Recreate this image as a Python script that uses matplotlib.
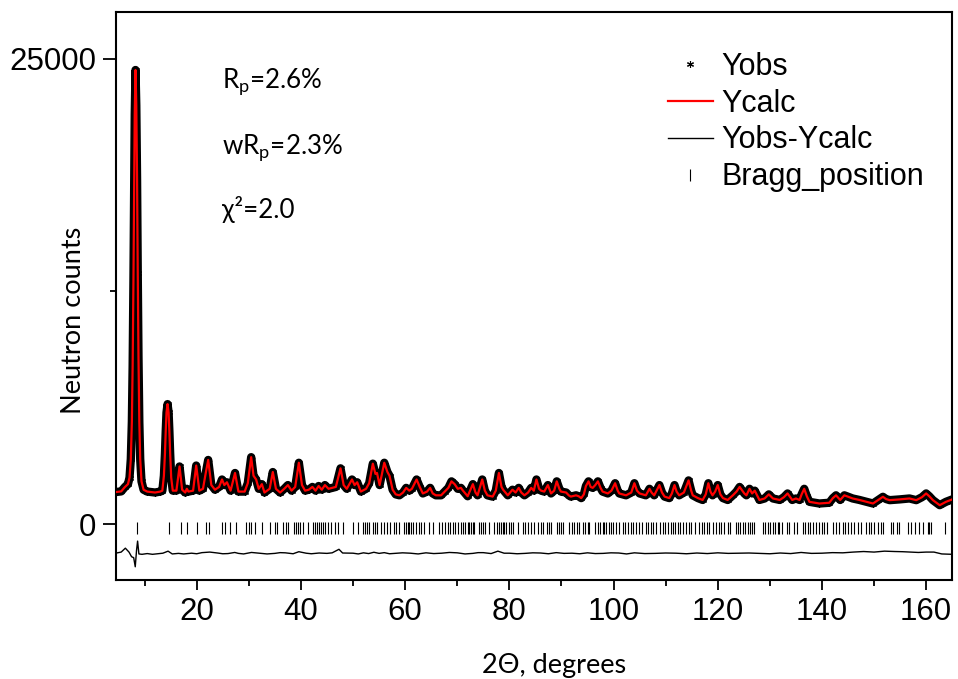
import matplotlib.pyplot as plt
from matplotlib.ticker import MultipleLocator

two_theta = [4.6, 5.5, 6.2, 6.8, 7.1, 7.35, 7.55, 7.7, 7.85, 7.98, 8.1, 8.25, 8.4, 8.55, 8.68, 8.82,
             8.98, 9.15, 9.4, 9.8, 10.5, 12.0, 13.0, 13.4, 13.7, 13.9, 14.05, 14.2, 14.4, 14.6,
             14.75, 14.9, 15.1, 15.4, 16.1, 16.7, 17.2, 17.8, 18.1, 18.4, 19.3, 19.9, 20.5, 21.2,
             21.7, 22.2, 22.8, 23.5, 24.3, 24.85, 25.3, 25.8, 26.5, 27.35, 28.0, 29.2, 29.8, 30.45,
             30.9, 31.4, 31.9, 32.5, 33.0, 34.0, 34.6, 35.2, 36.0, 36.8, 37.5, 38.2, 38.9, 39.6,
             40.2, 40.8, 41.5, 42.2, 42.8, 43.4, 44.0, 44.6, 45.3, 46.0, 46.7, 47.6, 48.2, 48.8,
             49.8, 50.3, 50.8, 51.5, 52.5, 53.1, 53.8, 54.3, 54.6, 55.1, 56.0, 56.6, 57.0, 57.6,
             58.2, 58.9, 59.6, 60.2, 60.8, 61.3, 62.2, 62.8, 63.4, 64.2, 64.8, 65.3, 65.9, 66.9,
             67.6, 68.3, 68.9, 69.5, 70.1, 70.7, 71.1, 72.0, 73.0, 73.5, 73.9, 74.8, 75.3, 75.8,
             76.8, 77.4, 78.0, 78.5, 78.8, 79.7, 80.6, 81.2, 81.8, 82.3, 82.9, 83.6, 84.2, 84.7,
             85.2, 85.7, 86.1, 86.7, 87.4, 88.0, 88.6, 89.1, 89.6, 89.9, 90.9, 91.4, 91.8, 92.8,
             93.3, 93.8, 94.3, 94.7, 95.2, 95.6, 96.0, 96.5, 97.0, 97.5, 97.9, 98.9, 99.6, 100.3,
             100.8, 101.1, 102.4, 103.4, 104.0, 104.5, 105.0, 106.2, 106.9, 107.3, 107.8, 108.8,
             109.3, 109.8, 110.7, 111.2, 111.7, 112.1, 112.6, 113.5, 114.4, 114.9, 115.2, 116.2,
             117.1, 117.7, 118.2, 118.6, 119.0, 119.5, 120.0, 120.5, 121.0, 121.9, 122.9, 123.6,
             124.2, 124.7, 125.1, 125.5, 126.1, 126.6, 127.1, 128.0, 129.0, 129.8, 130.6, 131.9,
             132.7, 133.4, 134.3, 135.0, 135.7, 136.1, 136.6, 137.1, 137.6, 139.5, 141.4, 142.1,
             142.7, 143.5, 144.3, 145.9, 147.2, 148.6, 149.8, 150.8, 151.7, 152.3, 153.0, 154.9,
             156.8, 158.1, 159.2, 160.0, 160.6, 161.3, 162.6, 163.8, 165.0]
counts = [1730, 1760, 1990, 2150, 2500, 3500, 5500, 8500, 13000, 18000, 22000, 24400, 22500, 18500,
          13500, 9000, 5500, 3500, 2300, 1850, 1750, 1700, 1750, 1800, 2600, 3800, 5000, 6000, 6450,
          6000, 5000, 3800, 2500, 1800, 1800, 3100, 1850, 1700, 1900, 1750, 1800, 3150, 1800, 1900,
          2700, 3450, 2100, 1850, 2000, 2400, 2100, 2250, 1800, 2750, 1750, 1750, 2200, 3600, 2600,
          2400, 1900, 2150, 1700, 1900, 2800, 1900, 1700, 1900, 2100, 1800, 2000, 3300, 2100, 1800,
          1850, 2000, 1800, 2050, 1850, 2100, 1900, 1950, 2000, 3000, 2100, 1900, 2400, 2100, 2250,
          1750, 1900, 2200, 3250, 2700, 2750, 2100, 3300, 2800, 2600, 1850, 1600, 1550, 1700, 1950,
          1800, 1900, 2400, 2000, 1650, 1750, 1950, 1650, 1550, 1550, 1750, 1950, 2300, 2150, 1900,
          1950, 1800, 1500, 2150, 1700, 1550, 2400, 1800, 1550, 1480, 1800, 2750, 2000, 1850, 1550,
          1850, 1700, 1950, 1700, 1550, 1700, 1950, 1800, 2400, 1900, 1800, 1750, 2100, 1650, 1800,
          2300, 1900, 1750, 1700, 1550, 1480, 1550, 1500, 1400, 1600, 2050, 2300, 2000, 1950, 2100,
          2300, 1950, 1750, 1650, 1800, 2200, 1800, 1650, 1550, 1700, 2200, 1800, 1650, 1550, 1900,
          1700, 1550, 2100, 1700, 1480, 1400, 1650, 2100, 1750, 1550, 1700, 2350, 1800, 1550, 1400,
          1300, 1600, 2200, 1750, 1550, 1750, 2100, 1600, 1400, 1300, 1550, 1750, 2000, 1800, 1650,
          1550, 1900, 1650, 1800, 1300, 1380, 1600, 1380, 1300, 1450, 1650, 1300, 1380, 1300, 1600,
          1900, 1500, 1200, 1110, 1150, 1400, 1550, 1300, 1550, 1380, 1300, 1200, 1110, 1300, 1470,
          1350, 1290, 1330, 1380, 1290, 1450, 1650, 1500, 1290, 1020, 1200, 1330]

# difference curve
diff_theta = [4.6, 5.5, 6.3, 7.0, 7.5, 7.9, 8.2, 8.45, 8.65, 8.9, 9.5, 10.5, 11.5, 12.5, 13.5,
              14.5, 15.3, 16.5, 17.5, 19.0, 20.0, 21.0, 22.5, 24.0, 25.0, 26.0, 27.3, 28.0, 29.0,
              30.5, 32.0, 33.5, 35.0, 36.0, 37.0, 38.5, 39.6, 41.0, 42.0, 43.5, 45.0, 46.0, 47.3,
              48.0, 50.0, 51.0, 52.0, 53.0, 54.0, 55.0, 56.0, 57.0, 58.0, 59.5, 61.0, 62.5, 64.0,
              65.5, 67.0, 68.5, 70.0, 71.5, 73.0, 74.0, 75.0, 76.5, 77.8, 79.0, 80.0, 81.5, 83.0,
              84.5, 86.0, 87.5, 89.0, 90.5, 92.0, 93.5, 95.0, 96.5, 98.0, 99.5, 101.0, 102.5,
              104.0, 106.0, 108.0, 110.0, 112.0, 114.0, 116.0, 118.0, 120.0, 122.0, 124.0, 126.0,
              128.0, 130.0, 132.0, 134.0, 136.0, 138.0, 140.0, 142.0, 144.0, 146.0, 148.0, 150.0,
              152.0, 154.0, 155.5, 157.0, 158.5, 160.0, 161.5, 163.0, 165.0]
diff_counts = [-1550, -1500, -1290, -1500, -1750, -1800, -2290, -1400, -910, -1600, -1620, -1580,
               -1620, -1590, -1560, -1450, -1600, -1570, -1600, -1560, -1590, -1530, -1500, -1550,
               -1590, -1580, -1520, -1570, -1600, -1520, -1560, -1600, -1570, -1530, -1540, -1590,
               -1480, -1560, -1590, -1550, -1570, -1540, -1350, -1550, -1560, -1600, -1540, -1580,
               -1510, -1570, -1530, -1590, -1570, -1540, -1560, -1600, -1540, -1580, -1560, -1520,
               -1540, -1600, -1570, -1530, -1530, -1580, -1450, -1560, -1560, -1590, -1570, -1540,
               -1550, -1590, -1530, -1570, -1560, -1590, -1540, -1580, -1570, -1540, -1550, -1600,
               -1540, -1580, -1570, -1550, -1560, -1590, -1550, -1580, -1540, -1570, -1560, -1550,
               -1570, -1590, -1550, -1580, -1520, -1570, -1560, -1530, -1540, -1500, -1470, -1500,
               -1450, -1470, -1480, -1500, -1520, -1500, -1500, -1600, -1620]

# Bragg reflection positions (2theta)
bragg_pos = [8.5, 14.65, 16.9, 18.07, 19.99, 21.7, 22.3, 24.82, 25.4, 26.3, 27.5, 29.4, 30.0, 30.42,
             31.2, 32.46, 34.06, 35.0, 35.5, 36.5, 37.1, 37.6, 38.7, 39.05, 39.4, 39.8, 40.46, 41.3,
             42.4, 42.7, 43.0, 43.4, 43.85, 44.3, 44.7, 45.14, 45.78, 46.55, 47.06, 48.02, 49.94,
             50.9, 51.86, 52.31, 52.69, 53.14, 53.78, 54.29, 54.61, 55.38, 56.02, 56.53, 57.17,
             57.81, 58.26, 58.9, 59.73, 60.18, 60.5, 60.82, 61.14, 61.58, 62.09, 62.61, 63.05,
             63.57, 64.65, 65.29, 66.57, 67.08, 67.72, 68.17, 68.62, 69.13, 69.64, 70.09, 70.73,
             71.05, 71.56, 72.01, 72.33, 72.65, 72.97, 73.29, 74.25, 74.57, 74.89, 75.4, 76.17,
             77.13, 77.58, 78.09, 78.41, 78.73, 79.05, 79.37, 79.88, 80.33, 80.65, 81.61, 82.57,
             83.08, 83.53, 84.17, 84.81, 85.45, 86.09, 86.54, 87.18, 87.56, 88.01, 89.1, 89.48,
             89.93, 90.38, 91.53, 92.04, 92.49, 92.94, 93.45, 94.09, 94.6, 95.05, 95.37, 96.52,
             96.97, 97.41, 97.93, 98.25, 98.57, 99.08, 99.53, 99.97, 100.49, 101.12, 101.89,
             102.28, 102.72, 103.36, 103.81, 104.32, 104.96, 105.47, 106.24, 106.56, 107.2,
             107.65, 108.16, 108.93, 109.44, 109.95, 110.4, 111.04, 111.36, 111.87, 112.32,
             112.77, 113.28, 113.92, 114.43, 114.88, 115.71, 116.48, 116.93, 117.44, 117.89,
             118.4, 119.04, 119.68, 120.19, 120.64, 121.28, 121.92, 122.37, 123.52, 123.84,
             124.29, 124.8, 125.31, 125.77, 126.22, 126.6, 127.05, 128.78, 129.16, 129.61, 130.06,
             130.57, 131.08, 131.53, 131.85, 132.36, 133.26, 133.64, 134.73, 135.17, 136.33,
             136.84, 137.29, 137.73, 138.25, 138.89, 139.53, 140.04, 140.49, 140.93, 142.21,
             142.72, 143.24, 144.0, 144.52, 144.96, 145.6, 146.24, 146.88, 147.52, 148.48, 149.0,
             149.44, 150.08, 150.72, 151.36, 151.81, 153.28, 153.73, 154.37, 154.75, 156.48,
             157.12, 157.95, 158.59, 159.36, 160.32, 160.64, 160.96, 163.71]
bragg_level = -200

plt.rcParams['font.family'] = ['Liberation Sans', 'DejaVu Sans']
plt.rcParams['mathtext.fontset'] = 'custom'
plt.rcParams['mathtext.rm'] = 'Lato'

fig = plt.figure(figsize=(9.58, 6.79), dpi=100)
ax = fig.add_axes([0.1216, 0.1458, 0.8718, 0.8361])

ax.plot(two_theta, counts, color='black', lw=6, solid_joinstyle='round',
        solid_capstyle='round', zorder=2)
ax.plot(two_theta, counts, ls='none', marker=(6, 2, 0), ms=5, mew=0.8,
        color='black', label='Yobs', zorder=2)
ax.plot(two_theta, counts, color='red', lw=1.6, label='Ycalc', zorder=3)
ax.plot(diff_theta, diff_counts, color='black', lw=1.0, label='Yobs-Ycalc', zorder=2)
ax.plot(bragg_pos, [bragg_level] * len(bragg_pos), ls='none', marker='|', ms=8,
        mew=0.8, color='black', label='Bragg_position', zorder=2)

ax.set_xlim(4.6, 164.9)
ax.set_ylim(-3000, 27500)
ax.xaxis.set_major_locator(MultipleLocator(20))
ax.xaxis.set_minor_locator(MultipleLocator(10))
ax.yaxis.set_major_locator(MultipleLocator(25000))
ax.yaxis.set_minor_locator(MultipleLocator(12500))
ax.tick_params(axis='x', which='major', direction='out', length=7, width=1.3,
               labelsize=22.5, pad=5)
ax.tick_params(axis='x', which='minor', direction='out', length=4.5, width=1.3)
ax.tick_params(axis='y', which='major', direction='out', length=9.5, width=1.3,
               labelsize=22.5, pad=5)
ax.tick_params(axis='y', which='minor', direction='out', length=4.5, width=1.3)
for s in ax.spines.values():
    s.set_linewidth(1.5)

calibri = ['Lato', 'DejaVu Sans']
ax.set_ylabel('Neutron counts', family=calibri, fontsize=19.5)
ax.yaxis.set_label_coords(-0.037, 0.458)
ax.set_xlabel('2Θ, degrees', family=calibri, fontsize=19.5)
ax.xaxis.set_label_coords(0.524, -0.128)

ax.text(0.126, 0.867, r'R$_\mathregular{p}$=2.6%', transform=ax.transAxes,
        family=calibri, fontsize=18.7)
ax.text(0.126, 0.752, r'wR$_\mathregular{p}$=2.3%', transform=ax.transAxes,
        family=calibri, fontsize=18.7)
ax.text(0.126, 0.638, 'χ²=2.0', transform=ax.transAxes, family=calibri, fontsize=18.7)

ax.legend(loc='upper left', bbox_to_anchor=(0.66, 0.93), frameon=False, fontsize=22,
          handlelength=1.47, handletextpad=0.3, labelspacing=0.22, borderpad=0,
          borderaxespad=0, markerscale=1.0)

fig.savefig('out.png', dpi=100)
